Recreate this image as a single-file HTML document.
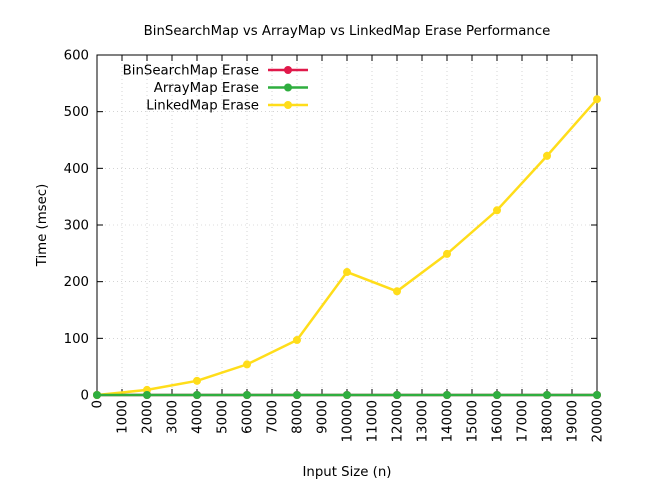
<!DOCTYPE html>
<html><head><meta charset="utf-8"><style>body{margin:0;background:#fff}svg{display:block;font-family:"DejaVu Sans","Liberation Sans",sans-serif}</style></head>
<body>
<svg id="chart" width="648" height="489" xmlns="http://www.w3.org/2000/svg">
<text x="347" y="35" font-size="13.3" text-anchor="middle">BinSearchMap vs ArrayMap vs LinkedMap Erase Performance</text>
<g id="grid"></g><g id="axes"></g><g id="series"></g><g id="legend"></g>
<text transform="translate(46,225) rotate(-90)" font-size="13.3" text-anchor="middle">Time (msec)</text>
<text x="347" y="476" font-size="13.3" text-anchor="middle">Input Size (n)</text>
</svg>
<script>
const xValues=[0,2000,4000,6000,8000,10000,12000,14000,16000,18000,20000];
const binSearchErase=[0,0,0,0,0,0,0,0,0,0,0];
const arrayErase=[0,0,0,0,0,0,0,0,0,0,0];
const linkedErase=[0,9,25,54,97,217,183,249,326,422,522];
const xTicks=[0,1000,2000,3000,4000,5000,6000,7000,8000,9000,10000,11000,12000,13000,14000,15000,16000,17000,18000,19000,20000];
const yTicks=[0,100,200,300,400,500,600];
const seriesNames=["BinSearchMap Erase","ArrayMap Erase","LinkedMap Erase"];
const NS="http://www.w3.org/2000/svg";
const L=97,R=597,T=55,B=395;
const xs=v=>L+(v-0)/20000*(R-L);
const ys=v=>B-v/600*(B-T);
function mk(p,tag,a){const e=document.createElementNS(NS,tag);for(const k in a)e.setAttribute(k,a[k]);p.appendChild(e);return e;}
const grid=document.getElementById('grid'),axes=document.getElementById('axes'),ser=document.getElementById('series'),leg=document.getElementById('legend');
xTicks.forEach(t=>{const x=xs(t);
 const g=mk(grid,'line',{x1:x,x2:x,y1:T,y2:B,stroke:'#bbb','stroke-width':0.6,'stroke-dasharray':'1,3'});
 
 mk(axes,'line',{x1:x,x2:x,y1:B,y2:B-6,stroke:'#000'});mk(axes,'line',{x1:x,x2:x,y1:T,y2:T+6,stroke:'#000'});
 const tx=mk(axes,'text',{transform:`translate(${x+4.5},400) rotate(-90)`,'font-size':13.3,'text-anchor':'end'});
 tx.textContent=t;});
yTicks.forEach(t=>{const y=ys(t);
 const g=mk(grid,'line',{x1:L,x2:R,y1:y,y2:y,stroke:'#bbb','stroke-width':0.6,'stroke-dasharray':'1,3'});
 
 mk(axes,'line',{x1:L,x2:L+6,y1:y,y2:y,stroke:'#000'});mk(axes,'line',{x1:R,x2:R-6,y1:y,y2:y,stroke:'#000'});
 const tx=mk(axes,'text',{x:89,y:y+4.5,'font-size':13.3,'text-anchor':'end'});
 tx.textContent=t;});
const fr=mk(axes,'rect',{x:L,y:T,width:R-L,height:B-T,fill:'none',stroke:'#000'});

const colors=["#e0194a","#2fae3f","#ffdd1a"];
[binSearchErase,arrayErase,linkedErase].forEach((d,i)=>{
 const g=mk(ser,'g',{});
 mk(g,'polyline',{points:d.map((v,j)=>xs(xValues[j])+','+ys(v)).join(' '),fill:'none',stroke:colors[i],'stroke-width':2.5});
 d.forEach((v,j)=>{const c=mk(g,'circle',{cx:xs(xValues[j]),cy:ys(v),r:4,fill:colors[i]});});
});
ser.appendChild(ser.children[1]);
seriesNames.forEach((n,i)=>{const y=70+i*17.5;
 const g=mk(leg,'g',{});
 const t=mk(g,'text',{x:259,y:y+4.5,'font-size':13.3,'text-anchor':'end'});t.textContent=n;
 mk(g,'line',{x1:268,x2:308,y1:y,y2:y,stroke:colors[i],'stroke-width':2.5});
 mk(g,'circle',{cx:288,cy:y,r:4,fill:colors[i]});});
</script>
</body></html>
